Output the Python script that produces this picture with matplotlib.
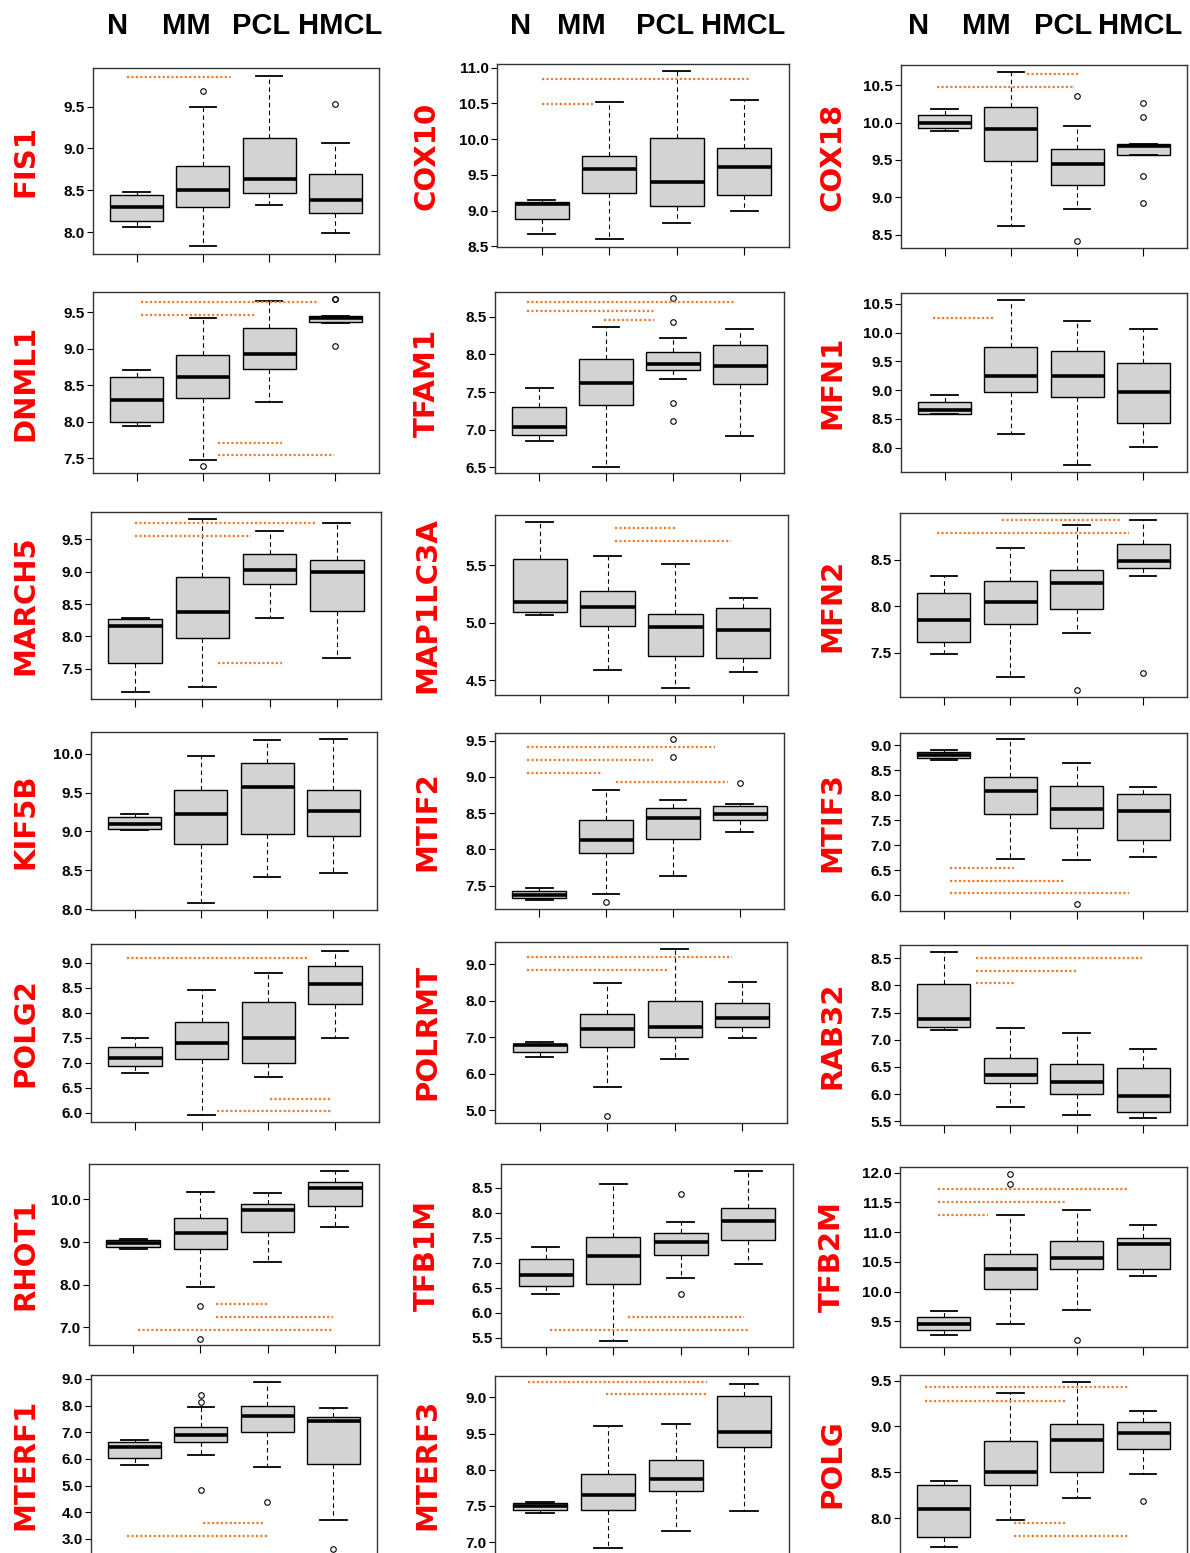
import matplotlib
matplotlib.use('Agg')
import matplotlib.pyplot as plt
import numpy as np

# ---- data (box stats per gene, order N, MM, PCL, HMCL)
groups = ['N', 'MM', 'PCL', 'HMCL']
genes = ['FIS1', 'COX10', 'COX18',
         'DNML1', 'TFAM1', 'MFN1',
         'MARCH5', 'MAP1LC3A', 'MFN2',
         'KIF5B', 'MTIF2', 'MTIF3',
         'POLG2', 'POLRMT', 'RAB32',
         'RHOT1', 'TFB1M', 'TFB2M',
         'MTERF1', 'MTERF3', 'POLG']

whislo = [[8.06, 7.83, 8.33, 7.99], [8.67, 8.60, 8.82, 9.00], [9.89, 8.615, 8.845, 9.57],
          [7.95, 7.48, 8.27, 9.35], [6.845, 6.51, 7.68, 6.915], [8.58, 8.24, 7.70, 8.005],
          [7.145, 7.22, 8.28, 7.67], [5.07, 4.59, 4.43, 4.57], [7.49, 7.245, 7.715, 8.32],
          [9.02, 8.08, 8.415, 8.47], [7.31, 7.39, 7.635, 8.24], [8.71, 6.73, 6.70, 6.77],
          [6.80, 5.955, 6.71, 7.50], [6.46, 5.63, 6.41, 6.98], [7.175, 5.76, 5.61, 5.555],
          [8.845, 7.945, 8.53, 9.345], [6.38, 5.43, 6.69, 6.975], [9.28, 9.45, 9.70, 10.255],
          [5.76, 6.14, 5.69, 3.71], [7.40, 6.92, 7.16, 7.43], [7.69, 7.98, 8.22, 8.48]]
q1 = [[8.135, 8.30, 8.47, 8.235], [8.875, 9.24, 9.065, 9.22], [9.92, 9.48, 9.17, 9.57],
      [8.0, 8.33, 8.72, 9.375], [6.93, 7.33, 7.80, 7.605], [8.58, 8.965, 8.88, 8.435],
      [7.595, 7.97, 8.81, 8.40], [5.09, 4.97, 4.71, 4.695], [7.62, 7.81, 7.965, 8.41],
      [9.03, 8.835, 8.97, 8.945], [7.335, 7.955, 8.145, 8.405], [8.745, 7.625, 7.35, 7.11],
      [6.93, 7.07, 7.0, 8.17], [6.59, 6.74, 7.02, 7.275], [7.24, 6.20, 6.0, 5.67],
      [8.875, 8.85, 9.24, 9.845], [6.525, 6.57, 7.16, 7.46], [9.36, 10.05, 10.38, 10.385],
      [6.04, 6.625, 7.025, 5.80], [7.44, 7.445, 7.71, 8.31], [7.795, 8.36, 8.50, 8.75]]
med = [[8.305, 8.50, 8.635, 8.385], [9.085, 9.585, 9.40, 9.61], [9.99, 9.91, 9.45, 9.68],
       [8.305, 8.62, 8.93, 9.42], [7.035, 7.625, 7.87, 7.85], [8.65, 9.25, 9.24, 8.97],
       [8.16, 8.37, 9.03, 9.0], [5.18, 5.14, 4.96, 4.935], [7.855, 8.05, 8.25, 8.49],
       [9.095, 9.225, 9.57, 9.27], [7.375, 8.135, 8.43, 8.485], [8.805, 8.08, 7.72, 7.68],
       [7.10, 7.40, 7.495, 8.575], [6.79, 7.23, 7.27, 7.53], [7.38, 6.35, 6.22, 5.965],
       [8.985, 9.21, 9.76, 10.265], [6.75, 7.135, 7.41, 7.83], [9.455, 10.375, 10.565, 10.80],
       [6.45, 6.89, 7.61, 7.425], [7.505, 7.65, 7.87, 8.515], [8.105, 8.50, 8.855, 8.93]]
q3 = [[8.445, 8.79, 9.12, 8.69], [9.12, 9.77, 10.02, 9.87], [10.10, 10.21, 9.65, 9.71],
      [8.615, 8.92, 9.28, 9.455], [7.305, 7.94, 8.03, 8.125], [8.79, 9.75, 9.68, 9.465],
      [8.27, 8.915, 9.27, 9.18], [5.56, 5.28, 5.08, 5.125], [8.14, 8.275, 8.39, 8.67],
      [9.185, 9.54, 9.875, 9.54], [7.43, 8.40, 8.575, 8.605], [8.87, 8.36, 8.19, 8.03],
      [7.32, 7.81, 8.21, 8.93], [6.83, 7.65, 7.99, 7.94], [8.035, 6.67, 6.56, 6.475],
      [9.055, 9.555, 9.89, 10.41], [7.08, 7.51, 7.60, 8.095], [9.57, 10.63, 10.85, 10.91],
      [6.625, 7.19, 7.99, 7.59], [7.535, 7.935, 8.14, 9.02], [8.36, 8.845, 9.03, 9.05]]
whishi = [[8.48, 9.50, 9.87, 9.06], [9.145, 10.52, 10.95, 10.54], [10.18, 10.67, 9.96, 9.71],
          [8.71, 9.43, 9.66, 9.455], [7.55, 8.36, 8.22, 8.345], [8.91, 10.575, 10.21, 10.065],
          [8.28, 9.815, 9.63, 9.75], [5.88, 5.58, 5.51, 5.22], [8.32, 8.625, 8.875, 8.92],
          [9.22, 9.975, 10.175, 10.19], [7.47, 8.815, 8.68, 8.63], [8.905, 9.12, 8.645, 8.17],
          [7.50, 8.46, 8.79, 9.24], [6.86, 8.49, 9.42, 8.52], [8.62, 7.22, 7.13, 6.83],
          [9.07, 10.17, 10.14, 10.655], [7.32, 8.58, 7.82, 8.84], [9.67, 11.28, 11.37, 11.115],
          [6.70, 7.96, 8.875, 7.925], [7.56, 8.61, 8.635, 9.19], [8.41, 9.36, 9.48, 9.165]]
fliers = [[[], [9.69], [], [9.53]], [[], [], [], []], [[], [], [10.36, 8.42], [10.265, 10.08, 9.29, 8.92]],
          [[], [7.39], [], [9.69, 9.68, 9.045]], [[], [], [8.745, 8.435, 7.355, 7.11], []], [[], [], [], []],
          [[], [], [], []], [[], [], [], []], [[], [], [7.105], [7.285]],
          [[], [], [], []], [[], [7.28], [9.52, 9.28], [8.915]], [[], [], [5.83], []],
          [[], [], [], []], [[], [4.84], [], []], [[], [], [], []],
          [[], [7.50, 6.74], [], []], [[], [], [8.38, 6.365], []], [[], [11.98, 11.81], [9.19], []],
          [[], [8.41, 8.125, 4.84], [4.39], [2.625]], [[], [], [], []], [[], [], [], [8.19]]]

# significance lines: (y, x_start, x_end) in group units
sig_lines = [[(9.85, 0.86, 2.43)], [(10.84, 1.01, 4.07), (10.485, 1.01, 1.76)],
             [(10.645, 2.25, 3.03), (10.47, 0.89, 2.97)],
             [(9.64, 1.07, 3.75), (9.47, 1.07, 2.79), (7.71, 2.23, 3.19), (7.545, 2.23, 3.98)],
             [(8.70, 0.82, 3.91), (8.58, 0.82, 2.74), (8.46, 1.97, 2.71)],
             [(10.25, 0.83, 1.76)],
             [(9.75, 1.0, 3.69), (9.555, 1.0, 2.72), (7.595, 2.23, 3.19)],
             [(5.83, 2.11, 3.01), (5.715, 2.11, 3.82)],
             [(8.92, 1.875, 3.67), (8.78, 0.89, 3.78)],
             [],
             [(9.41, 0.82, 3.63), (9.23, 0.82, 2.70), (9.055, 0.82, 1.94), (8.925, 2.15, 3.83)],
             [(6.54, 1.09, 2.05), (6.29, 1.09, 2.82), (6.035, 1.09, 3.78)],
             [(9.09, 0.885, 3.58), (6.28, 3.02, 3.955), (6.025, 2.23, 3.955)],
             [(9.19, 0.82, 3.85), (8.835, 0.82, 2.90)],
             [(8.50, 1.48, 3.98), (8.265, 1.48, 3.01), (8.04, 1.48, 2.06)],
             [(7.54, 2.23, 3.0), (7.235, 2.23, 3.98), (6.93, 1.07, 3.98)],
             [(5.905, 2.22, 3.93), (5.645, 1.06, 3.99)],
             [(11.725, 0.91, 3.78), (11.505, 0.91, 2.82), (11.29, 0.91, 1.66)],
             [(3.59, 2.03, 2.97), (3.11, 0.885, 3.03)],
             [(9.21, 0.82, 3.46), (9.04, 1.97, 3.46)],
             [(9.43, 0.72, 3.78), (9.275, 0.72, 2.82), (7.945, 2.06, 2.82), (7.81, 2.06, 3.78)]]

ylims = [(7.74, 9.96), (8.49, 11.05), (8.32, 10.77),
         (7.30, 9.78), (6.425, 8.83), (7.575, 10.69),
         (7.03, 9.925), (4.37, 5.94), (7.025, 9.0),
         (7.99, 10.28), (7.18, 9.605), (5.68, 9.25),
         (5.81, 9.37), (4.65, 9.615), (5.43, 8.745),
         (6.59, 10.83), (5.31, 8.98), (9.07, 12.095),
         (2.475, 9.15), (6.85, 9.295), (7.62, 9.56)]
yticks = [[8.0, 8.5, 9.0, 9.5], [8.5, 9.0, 9.5, 10.0, 10.5, 11.0], [8.5, 9.0, 9.5, 10.0, 10.5],
          [7.5, 8.0, 8.5, 9.0, 9.5], [6.5, 7.0, 7.5, 8.0, 8.5], [8.0, 8.5, 9.0, 9.5, 10.0, 10.5],
          [7.5, 8.0, 8.5, 9.0, 9.5], [4.5, 5.0, 5.5], [7.5, 8.0, 8.5],
          [8.0, 8.5, 9.0, 9.5, 10.0], [7.5, 8.0, 8.5, 9.0, 9.5], [6.0, 6.5, 7.0, 7.5, 8.0, 8.5, 9.0],
          [6.0, 6.5, 7.0, 7.5, 8.0, 8.5, 9.0], [5.0, 6.0, 7.0, 8.0, 9.0], [5.5, 6.0, 6.5, 7.0, 7.5, 8.0, 8.5],
          [7.0, 8.0, 9.0, 10.0], [5.5, 6.0, 6.5, 7.0, 7.5, 8.0, 8.5], [9.5, 10.0, 10.5, 11.0, 11.5, 12.0],
          [3.0, 4.0, 5.0, 6.0, 7.0, 8.0, 9.0], [7.0, 7.5, 8.0, 8.5, 9.0], [8.0, 8.5, 9.0, 9.5]]
# MTERF3 axis carries a mislabelled tick in the original figure
ytick_labels_override = {'MTERF3': ['7.0', '7.5', '8.0', '9.5', '9.0']}

# ---- layout (pixels: left, top, right, bottom)
W, H = 1190, 1553
rects = [(93, 68, 379, 254), (497, 64, 789, 247), (901, 65, 1187, 248),
         (93, 292, 379, 473), (495, 292, 784, 473), (901, 293, 1187, 472),
         (91, 512, 381, 699), (495, 515, 788, 695), (900, 513, 1187, 697),
         (91, 732, 377, 910), (495, 733, 784, 909), (900, 733, 1187, 911),
         (91, 944, 379, 1122), (495, 942, 787, 1123), (900, 945, 1187, 1125),
         (89, 1164, 379, 1345), (501, 1164, 793, 1347), (900, 1167, 1187, 1347),
         (91, 1375, 377, 1553), (495, 1376, 789, 1553), (900, 1375, 1187, 1553)]
label_x = [25, 427, 832]
header_x = [[118, 186, 261, 340], [521, 581, 665, 743], [919, 986, 1063, 1140]]

fig = plt.figure(figsize=(W / 100, H / 100), dpi=100)

for c in range(3):
    for g, hx in zip(groups, header_x[c]):
        fig.text(hx / W, 1 - 26 / H, g, ha='center', va='center', fontsize=21,
                 fontweight='bold', family=['Liberation Sans', 'DejaVu Sans'])

for i, gene in enumerate(genes):
    l, t, r, b = rects[i]
    ax = fig.add_axes([l / W, 1 - b / H, (r - l) / W, (b - t) / H])
    stats = []
    for k in range(4):
        stats.append(dict(whislo=whislo[i][k], q1=q1[i][k], med=med[i][k], q3=q3[i][k],
                          whishi=whishi[i][k], fliers=fliers[i][k]))
    ax.bxp(stats, positions=[1, 2, 3, 4], widths=0.8, capwidths=0.4, patch_artist=True,
           boxprops=dict(facecolor='#d3d3d3', edgecolor='black', linewidth=1.0),
           medianprops=dict(color='black', linewidth=2.6),
           whiskerprops=dict(color='black', linewidth=0.8, linestyle=(0, (4, 3))),
           capprops=dict(color='black', linewidth=1.3),
           flierprops=dict(marker='o', markersize=4, markerfacecolor='none',
                           markeredgecolor='black', markeredgewidth=0.8))
    for (yv, x0, x1) in sig_lines[i]:
        ax.plot([x0, x1], [yv, yv], color='#ed7d31', linestyle=(0, (1, 1)), linewidth=1.6)
    ax.set_xlim(0.34, 4.66)
    ax.set_ylim(*ylims[i])
    ax.set_yticks(yticks[i])
    ax.set_yticklabels(ytick_labels_override.get(gene, ['%.1f' % v for v in yticks[i]]),
                       fontsize=11, fontweight='bold', family=['Liberation Sans', 'DejaVu Sans'])
    ax.tick_params(axis='y', direction='out', length=4, width=0.8, pad=2)
    if i >= 18:
        ax.set_xticks([])
        ax.spines['bottom'].set_visible(False)
    else:
        ax.set_xticks([1, 2, 3, 4])
        ax.set_xticklabels([])
        ax.tick_params(axis='x', direction='out', length=6, width=0.8)
    for s in ax.spines.values():
        s.set_linewidth(1.0)
        s.set_color('#333333')
    fig.text(label_x[i % 3] / W, 1 - (t + b) / 2 / H, gene, rotation=90, ha='center', va='center',
             color='#ff0000', fontsize=21, fontweight='bold', family='DejaVu Sans')

fig.savefig('out.png', dpi=100)
